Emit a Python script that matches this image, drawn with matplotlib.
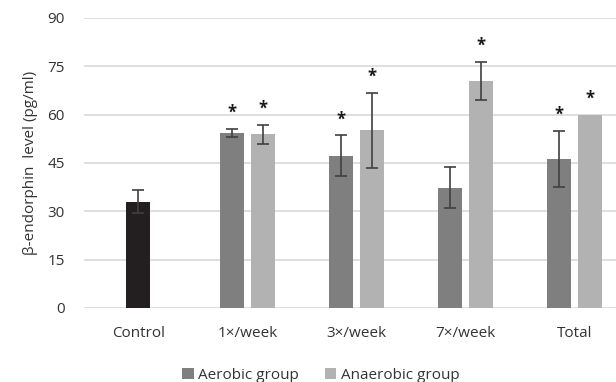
import matplotlib
matplotlib.use('Agg')
import matplotlib.pyplot as plt
import numpy as np

plt.rcParams['font.family'] = ['Open Sans', 'DejaVu Sans']

labels = ['Control', '1×/week', '3×/week', '7×/week', 'Total']
control_mean = 33.0
control_err = 3.5
aerobic_means = [54.3, 47.3, 37.3, 46.2]
aerobic_errs = [1.3, 6.3, 6.4, 8.7]
anaerobic_means = [53.9, 55.1, 70.4, 60.0]
anaerobic_errs = [3.0, 11.6, 6.0, 0.0]
aerobic_star = [True, True, False, True]
anaerobic_star = [True, True, True, True]

x = np.arange(len(labels))
width = 0.22
off = 0.142

fig = plt.figure(figsize=(6.16, 3.82), dpi=100)
ax = fig.add_axes([0.137, 0.194, 0.863, 0.759])

err_kw = dict(ecolor='#404040', elinewidth=1.2, capsize=4, capthick=1.2)
ax.bar(x[0], control_mean, width, color='#231f20', yerr=control_err,
       error_kw=err_kw, zorder=3)
ax.bar(x[1:] - off, aerobic_means, width, color='#7f7f7f',
       yerr=[e if e > 0 else np.nan for e in aerobic_errs],
       error_kw=err_kw, label='Aerobic group', zorder=3)
ax.bar(x[1:] + off, anaerobic_means, width, color='#b2b2b2',
       yerr=[e if e > 0 else np.nan for e in anaerobic_errs],
       error_kw=err_kw, label='Anaerobic group', zorder=3)

# significance stars above error bars
for xs, means, errs, stars in [(x[1:] - off, aerobic_means, aerobic_errs, aerobic_star),
                               (x[1:] + off, anaerobic_means, anaerobic_errs, anaerobic_star)]:
    for xi, m, e, s in zip(xs, means, errs, stars):
        if s:
            ax.annotate('*', xy=(xi, m + e), xytext=(0, 5), textcoords='offset points',
                        ha='center', va='bottom', fontsize=12, fontweight='bold',
                        color='#1a1a1a')

ax.set_ylim(0, 90)
ax.set_yticks(np.arange(0, 91, 15))
ax.set_xlim(-0.495, 4.38)
ax.set_xticks(x)
ax.set_xticklabels(labels, fontsize=11, color='#333333')
ax.tick_params(axis='y', labelsize=11, colors='#333333', length=0, pad=14)
ax.tick_params(axis='x', length=0, pad=13)
ax.yaxis.grid(True, color='#d9d9d9', linewidth=1.2, zorder=0)
ax.set_axisbelow(True)
for sp in ax.spines.values():
    sp.set_visible(False)
ax.set_ylabel('β-endorphin  level (pg/ml)', fontsize=11, color='#333333', labelpad=7)

ax.legend(loc='upper center', bbox_to_anchor=(0.445, -0.16), ncol=2, frameon=False,
          fontsize=11, handlelength=0.75, handleheight=0.75, handletextpad=0.3,
          columnspacing=1.7, labelcolor='#333333')

fig.savefig('out.png', dpi=100)
